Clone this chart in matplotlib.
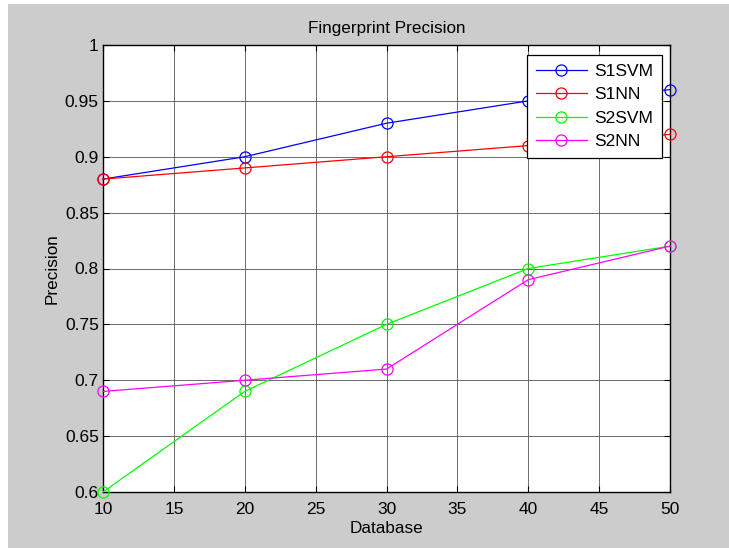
import matplotlib
matplotlib.use("Agg")
import matplotlib.pyplot as plt
from matplotlib.patches import Rectangle

database = [10, 20, 30, 40, 50]
s1svm = [0.88, 0.90, 0.93, 0.95, 0.96]
s1nn = [0.88, 0.89, 0.90, 0.91, 0.92]
s2svm = [0.60, 0.69, 0.75, 0.80, 0.82]
s2nn = [0.69, 0.70, 0.71, 0.79, 0.82]
labels = ["S1SVM", "S1NN", "S2SVM", "S2NN"]
colors = ["#0000ff", "#ff0000", "#00ff00", "#ff00ff"]
xticks = [10, 15, 20, 25, 30, 35, 40, 45, 50]
yticks = [0.6, 0.65, 0.7, 0.75, 0.8, 0.85, 0.9, 0.95, 1.0]
ytick_labels = ["0.6", "0.65", "0.7", "0.75", "0.8", "0.85", "0.9", "0.95", "1"]

plt.rcParams['font.family'] = ['Liberation Sans', 'DejaVu Sans']

W, H = 729, 548
fig = plt.figure(figsize=(W / 100, H / 100), dpi=100, facecolor='white')
fig.patches.append(Rectangle((8 / W, 0), 1 - 8 / W, 1 - 4 / H, transform=fig.transFigure,
                             facecolor='#cccccc', edgecolor='none', zorder=-10))

ax = fig.add_axes([103 / W, 1 - 492 / H, (670 - 103) / W, (492 - 45) / H])
ax.set_facecolor('white')

for ys, lab, c in zip([s1svm, s1nn, s2svm, s2nn], labels, colors):
    ax.plot(database, ys, color=c, lw=0.9, marker='o', markersize=8,
            markerfacecolor='none', markeredgecolor=c, markeredgewidth=0.9,
            label=lab, clip_on=False, zorder=3)

ax.set_xlim(10, 50)
ax.set_ylim(0.6, 1.0)
ax.set_xticks(xticks)
ax.set_yticks(yticks)
ax.set_yticklabels(ytick_labels)
ax.grid(True, color='#555555', lw=0.6, ls='-')
ax.set_axisbelow(True)
ax.tick_params(direction='in', length=4, width=0.8, labelsize=12.5, colors='black',
               top=True, right=True, pad=3)
ax.tick_params(axis='x', pad=7)
for s in ax.spines.values():
    s.set_linewidth(1.0)
    s.set_color('black')

ax.set_title("Fingerprint Precision", fontsize=12.3, pad=9)
ax.set_xlabel("Database", fontsize=12.3, labelpad=3)
ax.set_ylabel("Precision", fontsize=12.3, labelpad=4)

leg = ax.legend(loc='upper right', bbox_to_anchor=(662 / W, 1 - 55 / H),
                bbox_transform=fig.transFigure, fontsize=12.5, frameon=True,
                fancybox=False, edgecolor='black', framealpha=1,
                handlelength=2.9, handletextpad=0.45, borderpad=0.5,
                labelspacing=0.48, borderaxespad=0)
leg.get_frame().set_linewidth(0.9)

fig.savefig("out.png", dpi=100, facecolor=fig.get_facecolor())
